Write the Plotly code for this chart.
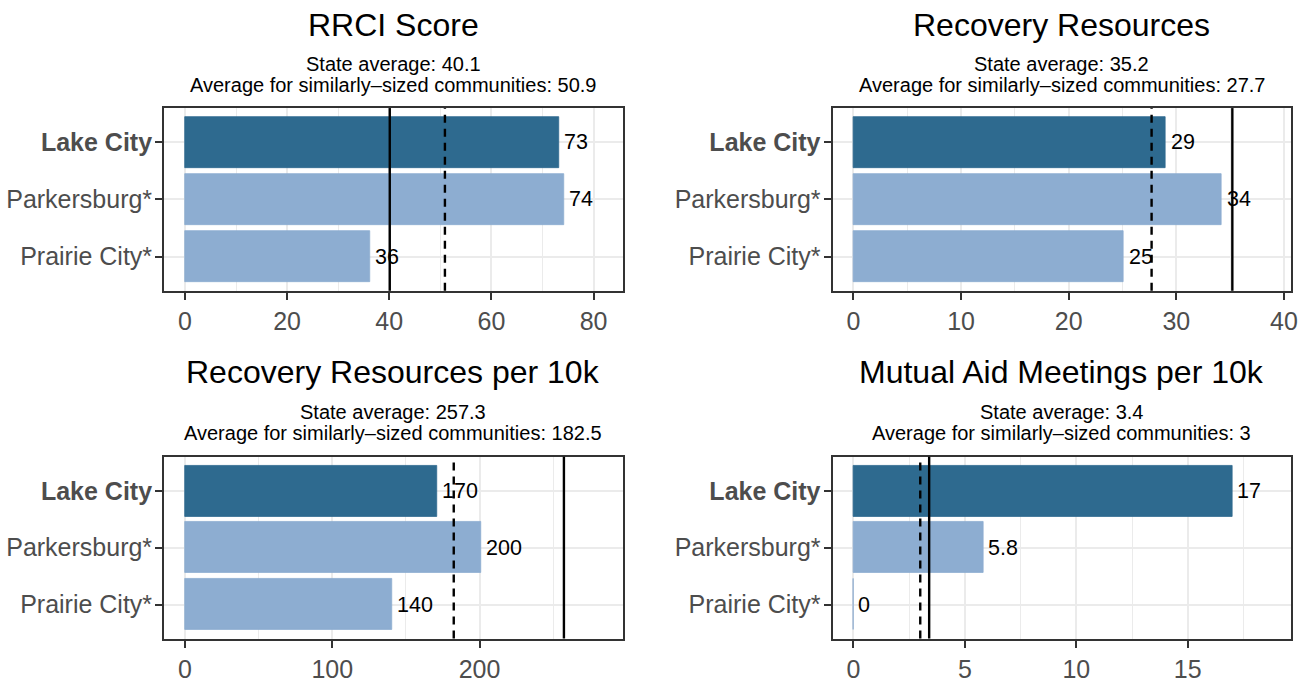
import plotly.graph_objects as go
from plotly.subplots import make_subplots

# ---- data ----
communities = ["Lake City", "Parkersburg*", "Prairie City*"]
panel_titles = ["RRCI Score", "Recovery Resources",
                "Recovery Resources per 10k", "Mutual Aid Meetings per 10k"]
rrci_score = [73.3, 74.2, 36.2]
recovery_resources = [29.0, 34.2, 25.1]
resources_per_10k = [171.2, 200.9, 140.7]
meetings_per_10k = [17.0, 5.83, 0.0]
state_avg = [40.1, 35.2, 257.3, 3.4]
similar_avg = [50.9, 27.7, 182.5, 3]
major_step = [20, 10, 100, 5]

series = [rrci_score, recovery_resources, resources_per_10k, meetings_per_10k]
highlight = "Lake City"

# ---- style ----
FONT = "Liberation Sans, Arial, Helvetica, sans-serif"
DARK = "#2E6A8F"
LIGHT = "#8DADD1"
GRID = "#EBEBEB"
BORDER = "#333333"
TICKTXT = "#4D4D4D"


def fmt_label(v):
    r = float(f"{v:.2g}")
    return str(int(r)) if r == int(r) else f"{r:g}"


fig = make_subplots(rows=2, cols=2)

W, H = 1312, 683
xdoms = [(165 / W, 626 / W), (837 / W, 1298 / W)]
ydoms = [(1 - 296 / H, 1 - 110 / H), (1 - 650 / H, 1 - 465 / H)]

annotations = []
shapes = []
for i, (title, vals) in enumerate(zip(panel_titles, series)):
    row, col = i // 2 + 1, i % 2 + 1
    colors = [DARK if c == highlight else LIGHT for c in communities]
    fig.add_trace(go.Bar(
        x=vals, y=communities, orientation="h", width=0.9,
        marker=dict(color=colors, line=dict(color=colors, width=0.8)),
        showlegend=False, hoverinfo="skip"), row=row, col=col)

    axn = "" if i == 0 else str(i + 1)
    xa, ya = "x" + axn, "y" + axn
    lim = 1.1 * max(vals + [state_avg[i], similar_avg[i]])
    xr = [-0.05 * lim, 1.05 * lim]
    fig.update_xaxes(
        range=xr, domain=xdoms[col - 1], dtick=major_step[i], tick0=0,
        showgrid=True, gridcolor=GRID, gridwidth=2, zeroline=False,
        minor=dict(dtick=major_step[i] / 2, tick0=0, showgrid=True,
                   gridcolor=GRID, gridwidth=1),
        showline=True, linecolor=BORDER, linewidth=2, mirror=True,
        ticks="outside", ticklen=7, tickwidth=2, tickcolor=BORDER,
        tickfont=dict(family=FONT, size=25, color=TICKTXT),
        fixedrange=True, row=row, col=col)
    fig.update_yaxes(
        domain=ydoms[row - 1], type="category",
        categoryorder="array", categoryarray=communities,
        range=[2.6, -0.6], tickmode="array", tickvals=communities,
        ticktext=[f"<b>{c}</b>" if c == highlight else c for c in communities],
        showgrid=True, gridcolor=GRID, gridwidth=2, zeroline=False,
        showline=True, linecolor=BORDER, linewidth=2, mirror=True,
        ticks="outside", ticklen=7, tickwidth=2, tickcolor=BORDER,
        ticklabelstandoff=-2,
        tickfont=dict(family=FONT, size=25, color=TICKTXT),
        fixedrange=True, row=row, col=col)

    # reference lines
    shapes.append(dict(type="line", xref=xa, yref=ya + " domain",
                       x0=state_avg[i], x1=state_avg[i], y0=0, y1=1,
                       line=dict(color="black", width=2.4), layer="above"))
    shapes.append(dict(type="line", xref=xa, yref=ya + " domain",
                       x0=similar_avg[i], x1=similar_avg[i], y0=0, y1=1,
                       line=dict(color="black", width=2.4, dash="8px,6px"),
                       layer="above"))

    # value labels
    for c, v in zip(communities, vals):
        annotations.append(dict(
            x=v, y=c, xref=xa, yref=ya, text=fmt_label(v), showarrow=False,
            xanchor="left", yanchor="middle", xshift=3,
            font=dict(family=FONT, size=21.5, color="black")))

    # titles
    xc = (xdoms[col - 1][0] + xdoms[col - 1][1]) / 2
    base = 0 if row == 1 else 354
    annotations.append(dict(
        x=xc, y=1 - (25 + base) / H, xref="paper", yref="paper", text=title,
        showarrow=False, xanchor="center", yanchor="middle",
        font=dict(family=FONT, size=32, color="black")))
    annotations.append(dict(
        x=xc, y=1 - (65 + base) / H, xref="paper", yref="paper",
        text=f"State average: {state_avg[i]:g}",
        showarrow=False, xanchor="center", yanchor="middle",
        font=dict(family=FONT, size=20, color="black")))
    annotations.append(dict(
        x=xc, y=1 - (87 + base) / H, xref="paper", yref="paper",
        text=f"Average for similarly\u2013sized communities: {similar_avg[i]:g}",
        showarrow=False, xanchor="center", yanchor="middle",
        font=dict(family=FONT, size=20, color="black")))

fig.update_layout(
    width=W, height=H, autosize=False,
    margin=dict(l=0, r=0, t=0, b=0),
    paper_bgcolor="white", plot_bgcolor="white",
    bargap=0, annotations=annotations, shapes=shapes,
    font=dict(family=FONT),
)

fig.write_html("out.html", config={"displayModeBar": False},
               post_script="document.body.style.margin='0';")
